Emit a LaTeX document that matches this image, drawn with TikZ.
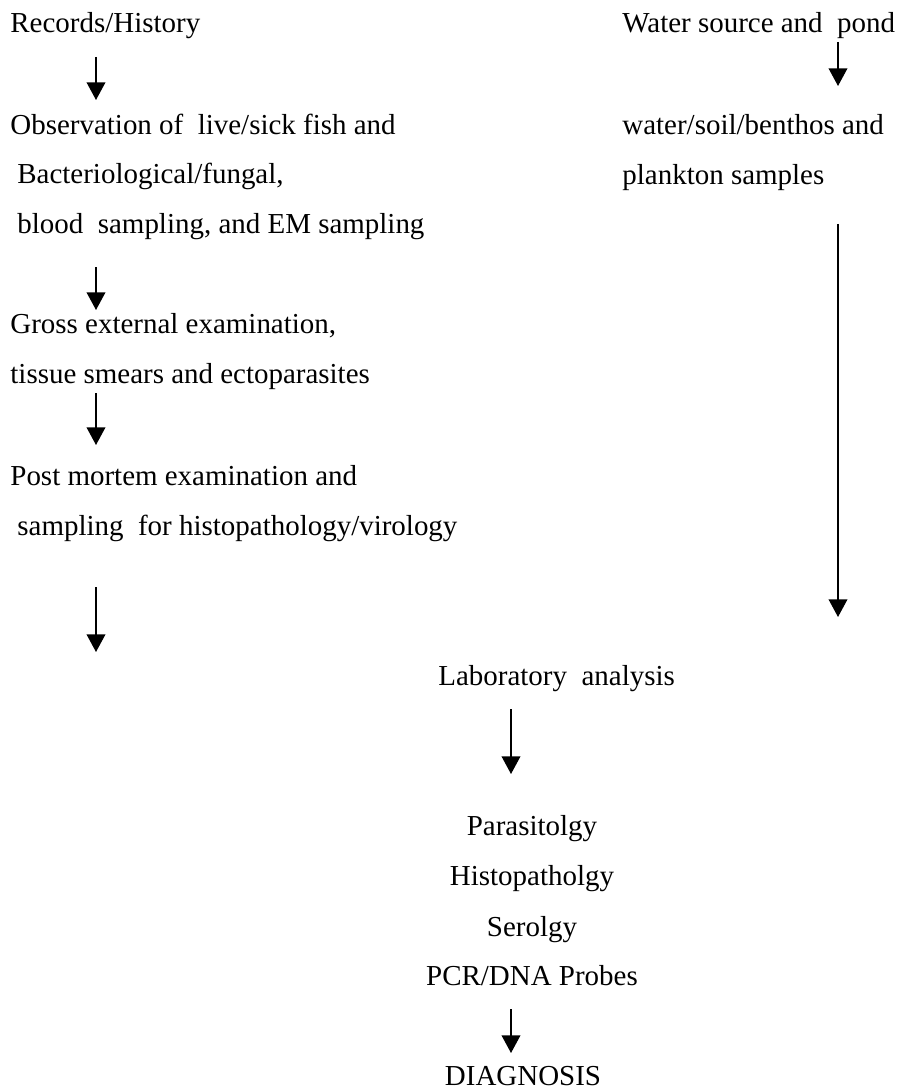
\documentclass[tikz,border=0pt]{standalone}
\usepackage{fontspec}
\setmainfont{Liberation Serif}
\usetikzlibrary{arrows.meta}
\begin{document}
\begin{tikzpicture}[x=0.48pt,y=-0.48pt,
	txt/.style={anchor=base west,inner sep=0pt,font=\fontsize{13.9}{16}\selectfont},
	txtm/.style={txt,anchor=base},
	pfeil/.style={line width=0.7pt,-{Triangle[width=9pt,length=8.5pt]}}]
	\useasboundingbox (0,0) rectangle (897,1089);%Rahmen
	%linke Spalte
	\node[txt] (rec) at (10,33) {Records/History};
	\node[txt] (obs1) at (10,135) {Observation of\ \ live/sick fish and};
	\node[txt] (obs2) at (17,184) {Bacteriological/fungal,};
	\node[txt] (obs3) at (17,233) {blood\ \ sampling, and EM sampling};
	\node[txt] (gross1) at (10,333) {Gross external examination,};
	\node[txt] (gross2) at (10,383) {tissue smears and ectoparasites};
	\node[txt] (pm1) at (10,485) {Post mortem examination and};
	\node[txt] (pm2) at (17,535) {sampling\ \ for histopathology/virology};
	%rechte Spalte
	\node[txt] (water) at (622,33) {Water source and\ \ pond};
	\node[txt] (samp1) at (622,135) {water/soil/benthos and};
	\node[txt] (samp2) at (622,185) {plankton samples};
	%Labor
	\node[txt] (lab) at (438,685) {Laboratory\ \ analysis};
	\node[txtm] (para) at (532,835) {Parasitolgy};
	\node[txtm] (histo) at (532,885) {Histopatholgy};
	\node[txtm] (sero) at (532,936) {Serolgy};
	\node[txtm] (pcr) at (532,985) {PCR/DNA Probes};
	\node[txtm] (diag) at (523,1085) {DIAGNOSIS};
	%Pfeile
	\coordinate (l1a) at (96,57); \coordinate (l1b) at (96,100);
	\coordinate (l2a) at (96,267); \coordinate (l2b) at (96,310);
	\coordinate (l3a) at (96,393); \coordinate (l3b) at (96,445);
	\coordinate (l4a) at (96,587); \coordinate (l4b) at (96,652);
	\coordinate (r1a) at (838,42); \coordinate (r1b) at (838,86);
	\coordinate (r2a) at (838,224); \coordinate (r2b) at (838,617);
	\coordinate (m1a) at (511,709); \coordinate (m1b) at (511,774);
	\coordinate (m2a) at (511,1009); \coordinate (m2b) at (511,1053);
	\draw[pfeil] (l1a) -- (l1b);%Records zu Observation
	\draw[pfeil] (l2a) -- (l2b);%Observation zu Gross
	\draw[pfeil] (l3a) -- (l3b);%Gross zu Post mortem
	\draw[pfeil] (l4a) -- (l4b);%Post mortem nach unten
	\draw[pfeil] (r1a) -- (r1b);%Water zu samples
	\draw[pfeil] (r2a) -- (r2b);%samples nach unten
	\draw[pfeil] (m1a) -- (m1b);%Labor zu Tests
	\draw[pfeil] (m2a) -- (m2b);%Tests zu Diagnose
\end{tikzpicture}
\end{document}
